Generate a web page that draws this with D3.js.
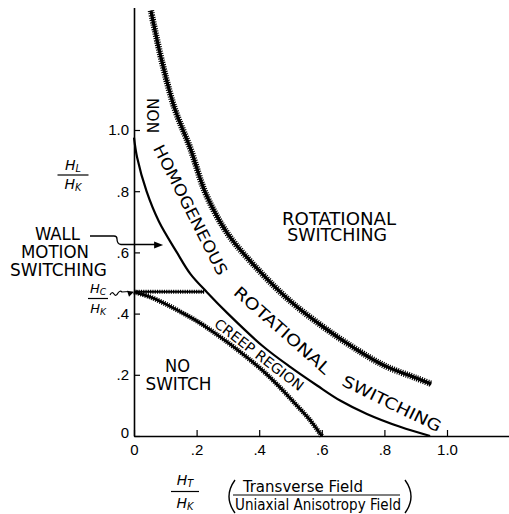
<!DOCTYPE html>
<html>
<head>
<meta charset="utf-8">
<script src="https://cdn.jsdelivr.net/npm/d3@7"></script>
<style>
  body { margin: 0; background: #fff; }
  svg { display: block; font-family: "DejaVu Sans Condensed", "DejaVu Sans", sans-serif; }
</style>
</head>
<body>
<svg id="chart" width="509" height="514"></svg>
<script>
// tick values (fractions of H_K)
const xTicks = [0, 0.2, 0.4, 0.6, 0.8, 1.0];
const yTicks = [0, 0.2, 0.4, 0.6, 0.8, 1.0];

// [H_T/H_K, H_L/H_K]
const rotationalBoundary = [
  [0.054, 1.39], [0.09, 1.22], [0.13, 1.07], [0.18, 0.94], [0.23, 0.79],
  [0.30, 0.66], [0.40, 0.54], [0.50, 0.44], [0.60, 0.36], [0.70, 0.29],
  [0.80, 0.23], [0.90, 0.19], [0.95, 0.17]
];
const switchingBoundary = [
  [0, 0.975], [0.01, 0.91], [0.04, 0.80], [0.08, 0.70], [0.137, 0.60],
  [0.18, 0.53], [0.233, 0.47], [0.30, 0.40], [0.41, 0.295], [0.50, 0.225],
  [0.585, 0.165], [0.66, 0.115], [0.744, 0.072], [0.85, 0.03], [0.946, 0.0]
];
const creepBoundary = [
  [0, 0.471], [0.05, 0.455], [0.10, 0.432], [0.15, 0.405], [0.21, 0.37],
  [0.26, 0.335], [0.32, 0.29], [0.41, 0.215], [0.47, 0.155], [0.52, 0.10],
  [0.56, 0.055], [0.60, 0.0]
];
const coerciveLine = [[0, 0.471], [0.224, 0.471]];

const svg = d3.select("#chart");

const x = d3.scaleLinear().domain([0, 1.2]).range([134, 509.6]);
const y = d3.scaleLinear().domain([0, 1.4]).range([436, 7.6]);

const fmt = d => d === 0 ? "0" : d === 1 ? "1.0" : d3.format(".1f")(d).replace(/^0/, "");

// axes
const gx = svg.append("g")
    .attr("transform", `translate(0,${y(0)})`)
    .call(d3.axisBottom(x).tickValues(xTicks).tickSizeInner(-6).tickSizeOuter(0)
        .tickPadding(8).tickFormat(fmt));
const gy = svg.append("g")
    .attr("transform", `translate(${x(0)},0)`)
    .call(d3.axisLeft(y).tickValues(yTicks).tickSizeInner(-6).tickSizeOuter(0)
        .tickPadding(5).tickFormat(fmt));
[gx, gy].forEach(g => {
  g.select(".domain").attr("stroke-width", 1.6);
  g.selectAll(".tick line").attr("stroke-width", 1.2);
  g.selectAll(".tick text").attr("font-size", 15).attr("font-family", null).attr("fill", "#000");
});
gy.selectAll(".tick text").filter(d => d === 0).attr("dy", "0.1em");

const line = d3.line()
    .x(d => x(d[0]))
    .y(d => y(d[1]))
    .curve(d3.curveCatmullRom.alpha(0.5));

// hatched "fuzzy" boundary: solid core plus a dashed wide fringe
function fuzzy(data, core, fringe) {
  svg.append("path").datum(data)
      .attr("d", line).attr("fill", "none").attr("stroke", "#000")
      .attr("stroke-width", core);
  svg.append("path").datum(data)
      .attr("d", line).attr("fill", "none").attr("stroke", "#000")
      .attr("stroke-width", fringe).attr("stroke-dasharray", "1.1,1.2");
}

fuzzy(rotationalBoundary, 3.2, 6.5);
fuzzy(creepBoundary, 2.6, 5);
fuzzy(coerciveLine, 2, 4);

svg.append("path").datum(switchingBoundary)
    .attr("d", line).attr("fill", "none").attr("stroke", "#000")
    .attr("stroke-width", 2.2);

// region labels
function label(txt, cx, cy, len, angle, size) {
  svg.append("text")
      .attr("transform", `translate(${cx},${cy}) rotate(${angle})`)
      .attr("text-anchor", "middle")
      .attr("dy", "0.36em")
      .attr("font-size", size)
      .attr("textLength", len)
      .attr("lengthAdjust", "spacingAndGlyphs")
      .text(txt);
}

label("NON", x(0.059), y(1.047), 35, 90, 16);
label("HOMOGENEOUS", x(0.181), y(0.739), 144, 63, 16);
label("ROTATIONAL", x(0.474), y(0.346), 123, 41.4, 16);
label("SWITCHING", x(0.824), y(0.106), 108, 26, 16);
label("CREEP REGION", x(0.40), y(0.266), 108, 37.5, 14);

label("ROTATIONAL", x(0.655), y(0.711), 114, 0, 17);
label("SWITCHING", x(0.649), y(0.657), 100, 0, 17);
label("NO", x(0.139), y(0.229), 25, 0, 17);
label("SWITCH", x(0.142), y(0.170), 66, 0, 17);

label("WALL", 57.5, 233.5, 45, 0, 17);
label("MOTION", 55, 251.5, 68, 0, 17);
label("SWITCHING", 58.5, 270, 97, 0, 17);

// wall-motion arrow
svg.append("path")
    .attr("d", "M90,236 H114 q3,0 3,3 q0,5 4,5.5 H156")
    .attr("fill", "none").attr("stroke", "#000").attr("stroke-width", 1.3);
svg.append("path")
    .attr("d", `M${x(0.093)},245 l-9,-3.5 v7 z`)
    .attr("fill", "#000");

// italic fractions
function frac(cx, topBase, lineY, botBase, sub1, sub2, w, size) {
  const g = svg.append("g").attr("font-style", "italic").attr("font-size", size)
      .attr("font-family", "DejaVu Sans, sans-serif");
  const t1 = g.append("text").attr("x", cx).attr("y", topBase).attr("text-anchor", "middle");
  t1.append("tspan").text("H");
  t1.append("tspan").attr("font-size", size * 0.7).attr("dy", 2).text(sub1);
  g.append("line").attr("x1", cx - w / 2).attr("x2", cx + w / 2)
      .attr("y1", lineY).attr("y2", lineY).attr("stroke", "#000").attr("stroke-width", 1.2);
  const t2 = g.append("text").attr("x", cx).attr("y", botBase).attr("text-anchor", "middle");
  t2.append("tspan").text("H");
  t2.append("tspan").attr("font-size", size * 0.7).attr("dy", 2).text(sub2);
}

frac(73, 170, 175, 189, "L", "K", 31, 14);
frac(98, 293, 298.5, 313, "C", "K", 20, 13);
frac(185, 485, 491.5, 508, "T", "K", 28, 14);

// H_C squiggle arrow to the axis
svg.append("path")
    .attr("d", "M110,295 q2,-4 4,-1 q2,3 4,-1 q2,-3 4,-1 L129,291.5")
    .attr("fill", "none").attr("stroke", "#000").attr("stroke-width", 1.2);
svg.append("path")
    .attr("d", `M${x(0)},${y(0.471)} l-7,-1 l2,6 z`)
    .attr("fill", "#000");

// x-axis description
svg.append("text").attr("x", 303).attr("y", 492).attr("text-anchor", "middle")
    .attr("font-size", 16).attr("textLength", 120).attr("lengthAdjust", "spacingAndGlyphs")
    .text("Transverse Field");
svg.append("line").attr("x1", 233).attr("x2", 400).attr("y1", 495).attr("y2", 495)
    .attr("stroke", "#000").attr("stroke-width", 1.2);
svg.append("text").attr("x", 318).attr("y", 510).attr("text-anchor", "middle")
    .attr("font-size", 15).attr("textLength", 166).attr("lengthAdjust", "spacingAndGlyphs")
    .text("Uniaxial Anisotropy Field");
svg.append("path").attr("d", "M235,480 Q223,496.5 235,513")
    .attr("fill", "none").attr("stroke", "#000").attr("stroke-width", 1.4);
svg.append("path").attr("d", "M405,480 Q417,496.5 405,513")
    .attr("fill", "none").attr("stroke", "#000").attr("stroke-width", 1.4);
</script>
</body>
</html>
